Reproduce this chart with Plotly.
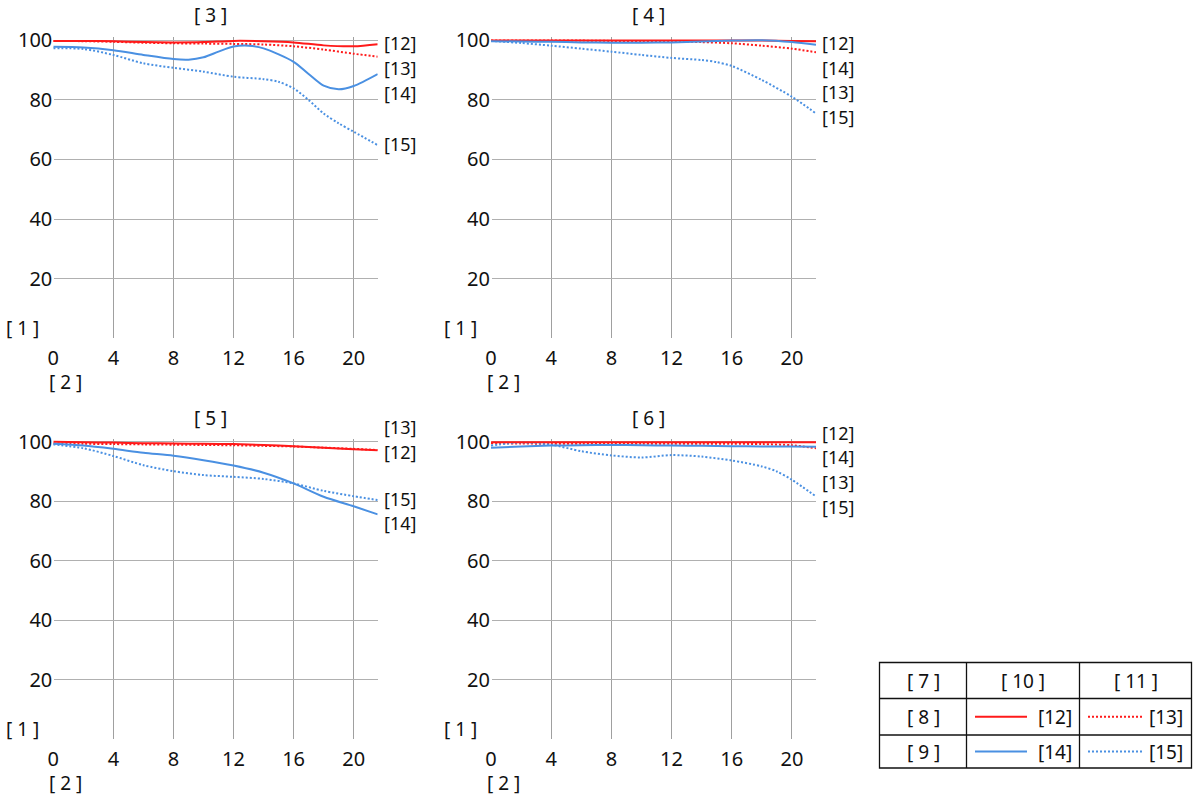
import plotly.graph_objects as go

# ---------------- data ----------------
x_pos = [0, 2, 4, 6, 8, 10, 12, 14, 16, 18, 20, 21.6]

panel_titles = ["[ 3 ]", "[ 4 ]", "[ 5 ]", "[ 6 ]"]
series_names = ["[12]", "[13]", "[14]", "[15]"]
y_title = "[ 1 ]"
x_title = "[ 2 ]"
x_ticks = [0, 4, 8, 12, 16, 20]
y_ticks = [20, 40, 60, 80, 100]

# panel 1  ([ 3 ])
p1_red_solid = [99.7, 99.7, 99.6, 99.3, 99.2, 99.3, 99.7, 99.6, 99.2, 98.2, 97.9, 98.6]
p1_red_dot = [99.7, 99.6, 99.4, 99.1, 98.9, 98.8, 98.7, 98.5, 97.9, 96.8, 95.4, 94.4]
p1_blue_solid_x = [0, 2, 4, 6, 8, 9, 10, 11, 12, 13, 14, 16, 17, 18, 19, 20, 21.6]
p1_blue_solid = [97.7, 97.5, 96.6, 95.0, 93.6, 93.4, 94.2, 96.1, 97.8, 98.1, 97.2, 92.7, 88.6, 84.7, 83.5, 84.6, 88.6]
p1_blue_dot_x = [0, 2, 4, 6, 8, 10, 12, 14, 15, 16, 17, 18, 19, 20, 21.6]
p1_blue_dot = [97.2, 97.0, 95.0, 92.2, 90.7, 89.4, 87.7, 86.9, 86.0, 83.8, 79.9, 75.4, 72.1, 69.3, 64.8]

# panel 2  ([ 4 ])
p2_red_solid = [99.8, 99.8, 99.8, 99.8, 99.8, 99.8, 99.8, 99.8, 99.8, 99.8, 99.7, 99.6]
p2_red_dot = [99.8, 99.8, 99.8, 99.8, 99.7, 99.7, 99.6, 99.3, 98.9, 98.1, 97.1, 95.9]
p2_blue_solid = [99.6, 99.5, 99.4, 99.2, 99.1, 99.1, 99.2, 99.5, 99.8, 99.9, 99.3, 98.4]
p2_blue_dot_x = [0, 2, 4, 6, 8, 10, 12, 14, 15, 16, 18, 20, 21.6]
p2_blue_dot = [99.7, 99.0, 98.1, 97.1, 96.1, 95.0, 94.0, 93.3, 92.6, 91.3, 86.6, 81.0, 75.4]

# panel 3  ([ 5 ])
p3_red_solid = [100.0, 99.8, 99.7, 99.5, 99.4, 99.3, 99.2, 98.9, 98.5, 98.0, 97.5, 97.1]
p3_red_dot = [99.4, 99.3, 99.2, 99.1, 99.0, 98.9, 98.8, 98.6, 98.4, 98.0, 97.6, 97.2]
p3_blue_solid = [99.3, 98.7, 97.6, 96.3, 95.3, 93.8, 92.0, 89.6, 86.0, 81.5, 78.3, 75.6]
p3_blue_dot = [99.1, 97.8, 95.2, 92.1, 90.1, 88.8, 88.2, 87.5, 86.0, 83.5, 81.7, 80.4]

# panel 4  ([ 6 ])
p4_red_solid = [99.8, 99.8, 99.8, 99.8, 99.8, 99.8, 99.8, 99.8, 99.8, 99.8, 99.8, 99.8]
p4_red_dot = [99.5, 99.4, 99.3, 99.3, 99.3, 99.3, 99.3, 99.3, 99.3, 99.2, 98.8, 97.8]
p4_blue_solid = [98.0, 98.4, 98.7, 98.8, 98.9, 98.8, 98.7, 98.6, 98.5, 98.4, 98.4, 98.3]
p4_blue_dot_x = [0, 2, 4, 6, 8, 10, 12, 14, 16, 18, 19, 20, 21.6]
p4_blue_dot = [98.7, 99.7, 99.0, 96.8, 95.4, 94.7, 95.5, 95.0, 93.7, 91.7, 90.0, 87.2, 81.6]

# end-label positions (value units) per panel, order: [12],[13],[14],[15]
p1_label_y = [98.9, 90.5, 82.1, 65.1]
p2_label_y = [98.9, 82.6, 90.7, 74.3]
p3_label_y = [96.6, 104.8, 72.8, 80.7]
p4_label_y = [102.9, 86.5, 94.8, 78.1]

# legend table texts
tbl_row_head = ["[ 7 ]", "[ 8 ]", "[ 9 ]"]
tbl_col_head = ["[ 10 ]", "[ 11 ]"]

# ---------------- styles ----------------
RED = "#ff1a1a"
BLUE = "#4a90e2"
GRID_H = "#b0b0b0"
GRID_V = "#a0a0a0"
FONT = "Noto Sans"
DOT = "2px,2px"
TXT = "#111"

W, H = 1200, 800
Y_MAX = 101.0

panels = [
    dict(xd=(53.3, 377.7), yd=(40.0, 338.7), title_top=0,
         series=[(x_pos, p1_red_solid), (x_pos, p1_red_dot), (p1_blue_solid_x, p1_blue_solid), (p1_blue_dot_x, p1_blue_dot)],
         labels=p1_label_y),
    dict(xd=(491.0, 816.0), yd=(40.0, 338.7), title_top=0,
         series=[(x_pos, p2_red_solid), (x_pos, p2_red_dot), (x_pos, p2_blue_solid), (p2_blue_dot_x, p2_blue_dot)],
         labels=p2_label_y),
    dict(xd=(53.3, 377.7), yd=(441.7, 739.5), title_top=403,
         series=[(x_pos, p3_red_solid), (x_pos, p3_red_dot), (x_pos, p3_blue_solid), (x_pos, p3_blue_dot)],
         labels=p3_label_y),
    dict(xd=(491.0, 816.0), yd=(441.7, 739.5), title_top=403,
         series=[(x_pos, p4_red_solid), (x_pos, p4_red_dot), (x_pos, p4_blue_solid), (p4_blue_dot_x, p4_blue_dot)],
         labels=p4_label_y),
]

styles = [(RED, "solid"), (RED, DOT), (BLUE, "solid"), (BLUE, DOT)]

fig = go.Figure()
annotations = []
shapes = []
layout_axes = {}

for i, p in enumerate(panels):
    n = "" if i == 0 else str(i + 1)
    xa, ya = "x" + n, "y" + n
    x0, x1 = p["xd"]
    ytop_px, ybot_px = p["yd"]
    ppu = (ybot_px - ytop_px) / 100.0
    ytop_px_ext = ytop_px - (Y_MAX - 100) * ppu
    layout_axes["xaxis" + n] = dict(
        domain=[x0 / W, x1 / W], range=[0, 21.6], anchor=ya,
        tickvals=x_ticks, showgrid=True, gridcolor=GRID_V, gridwidth=1,
        zeroline=True, zerolinecolor="white", zerolinewidth=1,
        showline=False, ticks="", ticklabelstandoff=5, automargin=False,
        tickfont=dict(family=FONT, size=20, color=TXT),
        fixedrange=True,
    )
    layout_axes["yaxis" + n] = dict(
        domain=[1 - ybot_px / H, 1 - ytop_px_ext / H], range=[0, Y_MAX], anchor=xa,
        tickvals=y_ticks, showgrid=True, gridcolor=GRID_H, gridwidth=1,
        zeroline=True, zerolinecolor="white", zerolinewidth=1,
        showline=False, ticks="", automargin=False,
        tickfont=dict(family=FONT, size=20, color=TXT),
        fixedrange=True,
    )
    # draw order: dotted first then solid
    for k in [1, 3, 0, 2]:
        xs, ys = p["series"][k]
        col, dash = styles[k]
        fig.add_trace(go.Scatter(
            x=xs, y=ys, mode="lines", xaxis=xa, yaxis=ya,
            line=dict(color=col, width=2, dash=dash, shape="spline", smoothing=0.8),
            name=series_names[k], showlegend=False, hoverinfo="skip",
        ))
    for k in range(4):
        ypx = ybot_px - p["labels"][k] * ppu
        annotations.append(dict(
            x=(x1 + 4) / W, y=1 - ypx / H, xref="paper", yref="paper", text=series_names[k],
            showarrow=False, xanchor="left", yanchor="middle",
            font=dict(family=FONT, size=18, color=TXT),
        ))
    # title
    cx = (x0 + x1) / 2 - 5
    annotations.append(dict(
        x=cx / W, y=1 - p["title_top"] / H, xref="paper", yref="paper", text=panel_titles[i],
        showarrow=False, xanchor="center", yanchor="top",
        font=dict(family=FONT, size=19, color=TXT),
    ))
    # axis titles
    annotations.append(dict(
        x=(x0 - 31) / W, y=1 - (ybot_px - 11) / H, xref="paper", yref="paper", text=y_title,
        showarrow=False, xanchor="center", yanchor="middle",
        font=dict(family=FONT, size=19, color=TXT),
    ))
    annotations.append(dict(
        x=(x0 + 12) / W, y=1 - (ybot_px + 43) / H, xref="paper", yref="paper", text=x_title,
        showarrow=False, xanchor="center", yanchor="middle",
        font=dict(family=FONT, size=19, color=TXT),
    ))

# ---------------- legend table ----------------
tx = [879.5, 966.5, 1079.5, 1191.5]
ty = [662.5, 698.5, 735.0, 768.0]
shapes.append(dict(type="rect", xref="paper", yref="paper",
                   x0=tx[0] / W, x1=tx[3] / W, y0=1 - ty[3] / H, y1=1 - ty[0] / H,
                   line=dict(color="#111", width=1.3), fillcolor="rgba(0,0,0,0)"))
for xv in tx[1:3]:
    shapes.append(dict(type="line", xref="paper", yref="paper",
                       x0=xv / W, x1=xv / W, y0=1 - ty[3] / H, y1=1 - ty[0] / H,
                       line=dict(color="#111", width=1.3)))
for yv in ty[1:3]:
    shapes.append(dict(type="line", xref="paper", yref="paper",
                       x0=tx[0] / W, x1=tx[3] / W, y0=1 - yv / H, y1=1 - yv / H,
                       line=dict(color="#111", width=1.3)))

row_c = [(ty[r] + ty[r + 1]) / 2 for r in range(3)]
for r in range(3):
    annotations.append(dict(x=((tx[0] + tx[1]) / 2) / W, y=1 - row_c[r] / H, xref="paper", yref="paper",
                            text=tbl_row_head[r], showarrow=False, xanchor="center", yanchor="middle",
                            font=dict(family=FONT, size=19, color=TXT)))
for c in range(2):
    annotations.append(dict(x=((tx[c + 1] + tx[c + 2]) / 2) / W, y=1 - row_c[0] / H, xref="paper", yref="paper",
                            text=tbl_col_head[c], showarrow=False, xanchor="center", yanchor="middle",
                            font=dict(family=FONT, size=19, color=TXT)))

sample_x = [(975, 1027, 1055), (1088, 1142, 1166)]
for r in range(2):
    for c in range(2):
        k = r * 2 + c
        col, dash = styles[k]
        sx0, sx1, lx = sample_x[c]
        yv = 1 - row_c[r + 1] / H
        shapes.append(dict(type="line", xref="paper", yref="paper",
                           x0=sx0 / W, x1=sx1 / W, y0=yv, y1=yv,
                           line=dict(color=col, width=2.2, dash=dash)))
        annotations.append(dict(x=lx / W, y=yv, xref="paper", yref="paper", text=series_names[k],
                                showarrow=False, xanchor="center", yanchor="middle",
                                font=dict(family=FONT, size=19, color=TXT)))

fig.update_layout(
    width=W, height=H, margin=dict(l=0, r=0, t=0, b=0, pad=0, autoexpand=False),
    paper_bgcolor="white", plot_bgcolor="white",
    showlegend=False, annotations=annotations, shapes=shapes,
    **layout_axes,
)

fig.write_html("out.html", config={"displayModeBar": False},
               post_script="document.body.style.margin='0px';document.body.style.overflow='hidden';")
